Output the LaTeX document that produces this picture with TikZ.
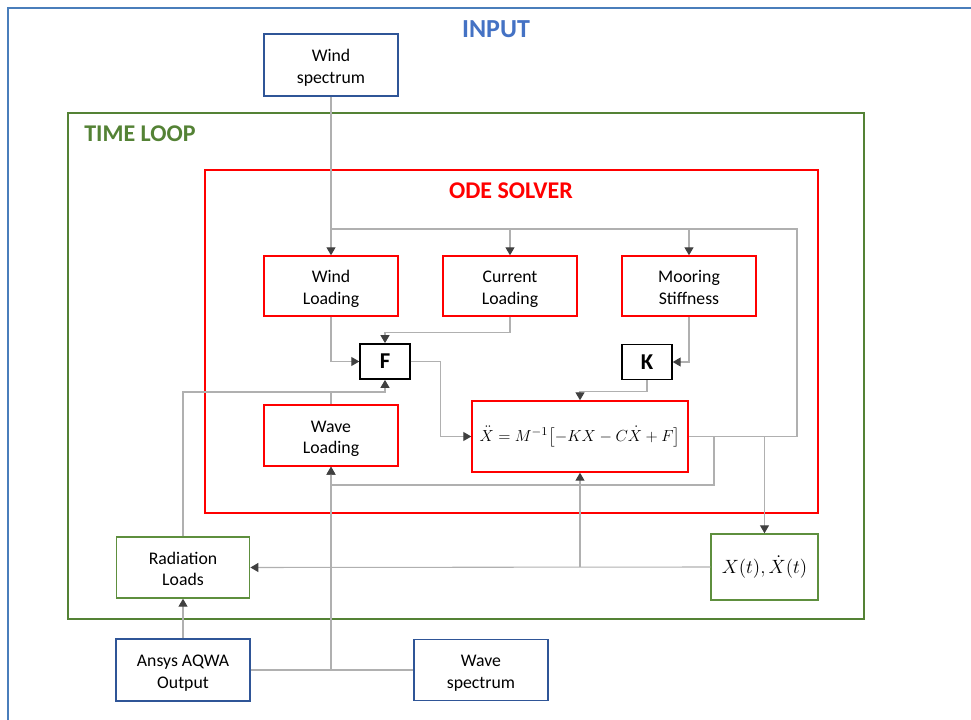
\documentclass[tikz,border=0pt]{standalone}
\usepackage{fontspec}
\setmainfont{Carlito}
\usepackage{amsmath}
\usetikzlibrary{arrows.meta}
\definecolor{outerblue}{HTML}{4A7EBB}
\definecolor{inputblue}{HTML}{4472C4}
\definecolor{boxblue}{HTML}{2F5597}
\definecolor{loopgreen}{HTML}{548235}
\definecolor{boxgreen}{HTML}{5E8F3E}
\definecolor{odered}{HTML}{FF0000}
\definecolor{conngray}{HTML}{B0B0B0}
\definecolor{tipgray}{HTML}{404040}
\newcommand{\tstrut}{\rule{0pt}{15pt}}
\newcommand{\bstrut}{\rule[-4pt]{0pt}{4pt}}
\begin{document}
\begin{tikzpicture}[x=0.75pt,y=-0.75pt,
  txt/.style={font=\fontsize{13.3}{16.2}\selectfont, align=center, inner sep=0pt},
  bluebox/.style={txt, draw=boxblue, line width=1.2pt, minimum width=100.5pt, minimum height=46.5pt},
  redbox/.style={txt, draw=odered, line width=1.1pt, minimum width=100.5pt, minimum height=45pt},
  greenbox/.style={txt, draw=boxgreen, line width=1.1pt},
  blackbox/.style={draw=black, line width=1.1pt, minimum width=37.5pt, minimum height=26.5pt, inner sep=0pt, font=\fontsize{17}{20}\selectfont\bfseries},
  conn/.style={draw=conngray, line width=0.8pt},
  arr/.style={conn, -{Triangle[width=6.8pt,length=6pt,color=tipgray]}},
  title/.style={font=\fontsize{18}{21}\selectfont\bfseries, inner sep=0pt}
]
\useasboundingbox (0,0) rectangle (971,720);
% outer INPUT frame
\draw[outerblue, line width=1.6pt] (8,722) -- (8,8) -- (973,8);
\node[title, text=inputblue, font=\fontsize{19.5}{22}\selectfont\bfseries] (tinput) at (496,29) {INPUT};
% time loop frame
\draw[loopgreen, line width=2.2pt] (68,113) rectangle (864,619);
\node[title, text=loopgreen] (tloop) at (140,134) {TIME LOOP};
% ode solver frame
\draw[odered, line width=2.2pt] (205,170) rectangle (818,513);
\node[title, text=odered] (tode) at (511,191) {ODE SOLVER};

% nodes
\node[bluebox] (ws) at (331,65) {\tstrut Wind\\spectrum\bstrut};
\node[redbox] (wl) at (331,286) {\tstrut Wind\\Loading\bstrut};
\node[redbox] (cl) at (510,286) {\tstrut Current\\Loading\bstrut};
\node[redbox] (ms) at (689,286) {\tstrut Mooring\\Stiffness\bstrut};
\node[blackbox] (F) at (385,361.5) {F};
\node[blackbox] (K) at (647,362) {K};
\node[redbox, minimum height=45.75pt] (wave) at (331,435.5) {\tstrut Wave\\Loading\bstrut};
\node[redbox, minimum width=162pt, minimum height=53.25pt] (eq) at (580,436.5)
  {\fontsize{13}{16}\selectfont$\ddot{X} = M^{-1}\bigl[-KX - C\dot{X} + F\bigr]$};
\node[greenbox, minimum width=100pt, minimum height=45.75pt] (rad) at (183,567.5) {\tstrut Radiation\\Loads\bstrut};
\node[greenbox, minimum width=80.25pt, minimum height=49.5pt] (xt) at (764.5,567)
  {\fontsize{14}{16}\selectfont$X(t),\dot{X}(t)$};
\node[bluebox] (aqwa) at (183,670) {\tstrut Ansys AQWA\\Output\bstrut};
\node[bluebox, minimum height=45.75pt] (wsp) at (481,670) {\tstrut Wave\\spectrum\bstrut};

% helper coordinates
\coordinate (top) at (797,229);
\coordinate (br) at (714,485);
\coordinate (rl) at (183,392);

% connectors
\draw[conn] (eq.east) -- (top |- eq.east) -- (top) -- (wl.north |- top);
\draw[arr] (ws.south) -- (wl.north);
\draw[arr] (cl.north |- top) -- (cl.north);
\draw[arr] (ms.north |- top) -- (ms.north);
\draw[arr] (wl.south) |- (F.west);
\draw[arr] (cl.south) -- ++(0,15.5) -| (F.north);
\draw[arr] (ms.south) |- (K.east);
\draw[arr] (K.south) -- ++(0,11) -| (eq.north);
\draw[arr] (F.east) -- ++(30,0) |- (eq.west);
\draw[arr] (br |- eq.east) -- (br) -| (wave.south);
\draw[arr] (xt.north |- eq.east) -- (xt.north);
\draw[arr] (xt.west) -- (rad.east);
\draw[arr] (eq.south |- xt.west) -- (eq.south);
\draw[arr] (aqwa.north) -- (rad.south);
\draw[arr] (rad.north) -- (rl) -| (F.south);
\draw[conn] (wave.north) -- (wave.north |- rl);
\draw[conn] (aqwa.east) -- (wsp.west);
\draw[arr] (wave.south |- aqwa.east) -- (wave.south);
\end{tikzpicture}
\end{document}
